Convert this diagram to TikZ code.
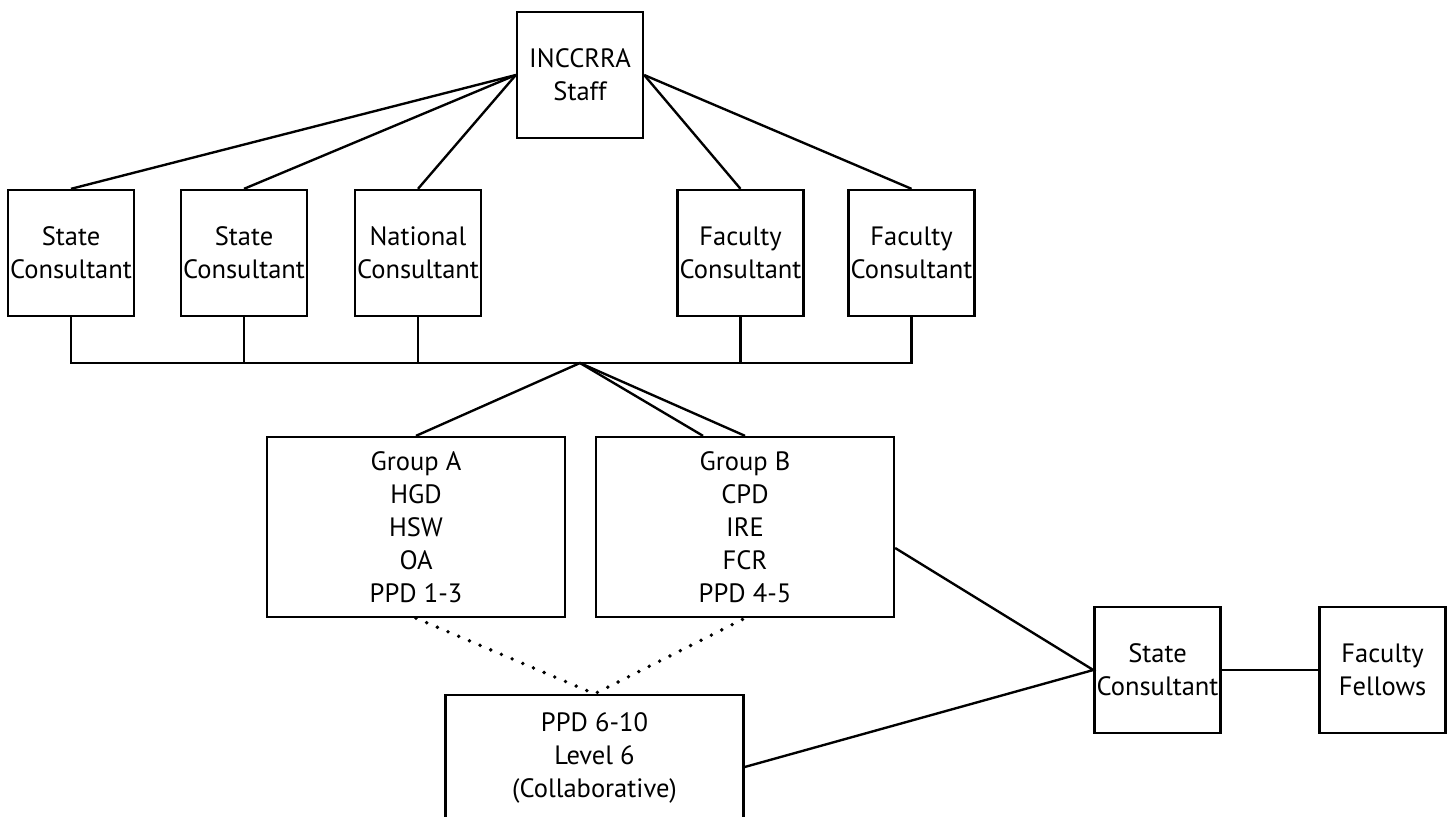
\documentclass[tikz,border=0pt]{standalone}
\usepackage{fontspec}
\setmainfont{PT Sans}

\begin{document}
\begin{tikzpicture}[x=0.02cm,y=-0.02cm,line width=1.35pt,
    box/.style={draw,align=center,inner sep=0pt,minimum width=2.52cm,
      minimum height=2.52cm,font=\fontsize{15.1}{18.8}\selectfont},
    groupbox/.style={box,minimum width=5.96cm,minimum height=3.6cm},
    dots/.style={line cap=round,line width=2.2pt,dash pattern=on 0pt off 6.6pt}]
    \useasboundingbox (0,0) rectangle (1450,816);
    \node[box] (staff) at (580,75) {INCCRRA\\Staff};
    \node[box] (sc1) at (71,253) {State\\Consultant};
    \node[box] (sc2) at (244,253) {State\\Consultant};
    \node[box] (nc) at (418,253) {National\\Consultant};
    \node[box] (fc1) at (740.5,253) {Faculty\\Consultant};
    \node[box] (fc2) at (911.5,253) {Faculty\\Consultant};
    \node[groupbox] (grpA) at (416,527) {Group A\\HGD\\HSW\\OA\\PPD 1-3};
    \node[groupbox] (grpB) at (745,527) {Group B\\CPD\\IRE\\FCR\\PPD 4-5};
    \node[groupbox,minimum height=2.52cm] (ppd) at (594.5,758) {PPD 6-10\\Level 6\\(Collaborative)};
    \node[box] (sc) at (1157.5,670) {State\\Consultant};
    \node[box] (ff) at (1382.5,670) {Faculty\\Fellows};
    \foreach \n in {sc1,sc2,nc} \draw (staff.west) -- (\n.north);
    \foreach \n in {fc1,fc2} \draw (staff.east) -- (\n.north);
    \coordinate (hub) at (580,363);
    \draw (sc1.south) |- (hub) -| (fc2.south);
    \foreach \n in {sc2,nc,fc1} \draw (\n.south) -- (\n.south |- hub);
    \draw (grpA.north) -- (hub) -- ([xshift=-0.84cm]grpB.north);
    \draw (hub) -- (grpB.north);
    \draw[dots] (grpA.south) -- (ppd.north) -- (grpB.south);
    \draw ([yshift=-0.42cm]grpB.east) -- (sc.west) -- ([yshift=-0.18cm]ppd.east);
    \draw (sc.east) -- (ff.west);
\end{tikzpicture}
\end{document}
